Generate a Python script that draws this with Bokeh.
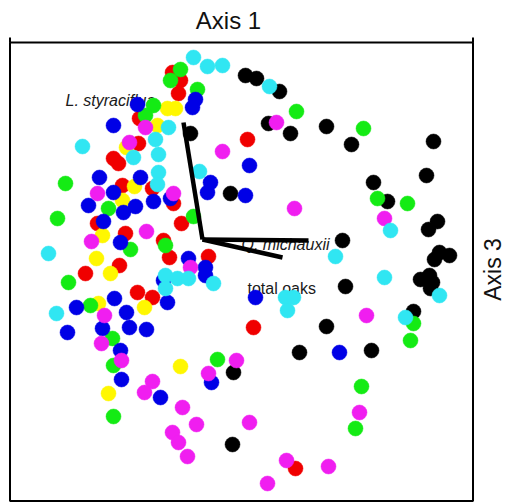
from math import pi
from bokeh.plotting import figure
from bokeh.models import BoxAnnotation
from bokeh.embed import file_html
from bokeh.resources import INLINE
from bokeh.core.properties import value

# Ordination scores (Axis 1 horizontal, Axis 3 vertical), grouped by plot colour
black_x = [0.04, 0.15, 0.38, -0.51, 0.27, 0.49, 0.85, 1.10, 1.92, 1.85, -0.11, 1.32, 1.46, 1.96, 1.87,
           1.01, 1.98, 2.08, 1.93, 1.88, 1.79, 1.91, 1.89, 1.04, 1.72, 0.85, 0.58, 1.30, -0.08, -0.09]
black_y = [1.92, 1.89, 1.76, 1.34, 1.44, 1.34, 1.41, 1.23, 1.26, 0.92, 0.74, 0.85, 0.66, 0.46, 0.38,
           0.27, 0.15, 0.12, 0.08, -0.08, -0.12, -0.15, -0.21, -0.19, -0.44, -0.59, -0.85, -0.83, -1.05, -1.77]

red_x = [-0.69, -0.61, -0.63, -1.02, -1.03, 0.06, -1.28, -1.23, -1.19, -0.89, -0.68, -1.44, -1.16, -0.60,
         -0.78, -1.22, -0.72, -0.33, -1.56, -1.04, -0.89, 0.12, 0.54]
red_y = [1.95, 1.87, 1.74, 1.49, 1.24, 1.28, 1.09, 1.04, 0.82, 0.79, 0.64, 0.44, 0.34, 0.44,
         0.27, 0.02, 0.10, 0.11, -0.06, -0.25, -0.30, -0.60, -2.01]

yellow_x = [-0.74, -0.66, -0.84, -1.15, -1.07, -1.19, -1.39, -1.45, -1.31, -1.43, -0.97, -0.61, -1.33]
yellow_y = [1.59, 1.59, 1.42, 1.20, 0.81, 0.67, 0.32, 0.09, -0.06, -0.36, -0.40, -0.99, -1.26]

green_x = [-0.61, -0.71, -0.44, -0.88, -0.96, 0.55, 1.22, -1.76, 1.36, 1.66, -1.33, -1.84, -0.48, -0.76,
           -1.11, -1.73, -1.51, 1.72, 1.69, -1.29, -1.28, -0.24, 1.20, -1.28, 1.14]
green_y = [1.98, 1.87, 1.78, 1.62, 1.52, 1.56, 1.39, 0.84, 0.69, 0.64, 0.59, 0.49, 0.51, 0.22,
           0.18, -0.15, -0.38, -0.56, -0.73, -0.71, -0.98, -0.92, -1.19, -1.49, -1.61]

blue_x = [-0.46, -0.49, -1.04, -1.28, 0.08, -1.42, -1.01, -1.28, -0.31, -0.34, 0.04, -0.88, -0.71, -1.53,
          -1.18, -1.06, -1.38, -1.21, -0.53, -0.36, -0.36, -0.78, 0.14, -0.74, -1.27, -1.65, -1.15, -1.74,
          -1.39, -1.12, -0.95, -1.21, -1.20, 0.98, -0.30, -0.81]
blue_y = [1.68, 1.60, 1.63, 1.42, 1.02, 0.90, 0.90, 0.75, 0.85, 0.75, 0.72, 0.66, 0.69, 0.62,
          0.55, 0.61, 0.46, 0.25, 0.09, 0.00, -0.08, -0.13, -0.30, -0.35, -0.31, -0.40, -0.45, -0.65,
          -0.61, -0.60, -0.62, -0.83, -1.12, -0.85, -1.15, -1.30]

magenta_x = [-0.96, 0.35, -1.12, -0.19, -1.44, -0.68, 0.53, 1.43, -0.95, -1.50, -0.51, -1.37, 1.25, -1.40,
             -1.20, -0.05, -0.33, -0.89, -0.97, -0.59, 1.18, 0.08, -0.45, -0.69, -0.63, -0.54, 0.45, 0.87, 0.26]
magenta_y = [1.40, 1.45, 1.25, 1.16, 0.74, 0.74, 0.59, 0.49, 0.36, 0.26, 0.00, -0.48, -0.48, -0.76,
             -0.93, -0.93, -1.06, -1.14, -1.25, -1.40, -1.45, -1.55, -1.57, -1.65, -1.75, -1.89, -1.93, -1.99, -2.16]

cyan_x = [-0.48, -0.34, -0.19, 0.28, -0.73, -0.86, -1.59, -1.08, -0.83, -0.42, -0.83, -0.84, 1.49, -1.93,
          0.94, -0.76, -0.64, -0.53, -0.28, 1.43, -0.76, 1.98, 0.44, 0.52, 0.46, -1.85, 1.64]
cyan_y = [2.10, 2.01, 2.02, 1.81, 1.40, 1.28, 1.21, 1.10, 1.13, 0.96, 0.95, 0.83, 0.37, 0.14,
          0.11, -0.08, -0.11, -0.11, -0.16, -0.10, -0.21, -0.28, -0.30, -0.30, -0.43, -0.46, -0.50]

# Biplot vectors (joint plot) and their labels
vector_names = ["L. styraciflua", "Q. michauxii", "total oaks"]
vector_origin = (-0.39, 0.28)
vector_x = [-0.58, 0.67, 0.41]
vector_y = [1.45, 0.27, 0.10]

axis_titles = ["Axis 1", "Axis 3"]

groups = [
    (black_x, black_y, "#000000"),
    (red_x, red_y, "#F00000"),
    (yellow_x, yellow_y, "#FFF700"),
    (green_x, green_y, "#14EB14"),
    (blue_x, blue_y, "#0000E6"),
    (magenta_x, magenta_y, "#F01EF0"),
    (cyan_x, cyan_y, "#30E6F2"),
]

FONT = value("Liberation Sans")

# Plot box limits (score units) and full canvas ranges
BOX_L, BOX_R, BOX_T, BOX_B = -2.315, 2.315, 2.25, -2.335
TOP_TICK = 2.30

p = figure(width=508, height=502, x_range=(-2.41, 2.67), y_range=(-2.35, 2.67),
           output_backend="svg", toolbar_location=None,
           x_axis_location=None, y_axis_location=None,
           min_border_left=0, min_border_right=0, min_border_top=0, min_border_bottom=0)
p.xgrid.visible = False
p.ygrid.visible = False
p.outline_line_color = None
p.background_fill_color = "white"
p.border_fill_color = "white"

# plot box
p.add_layout(BoxAnnotation(left=BOX_L, right=BOX_R, top=BOX_T, bottom=BOX_B,
                           fill_alpha=0, line_color="black", line_width=2, line_alpha=1))
# side lines poke slightly above the top line
for xx in (BOX_L, BOX_R):
    p.add_layout(BoxAnnotation(left=xx, right=xx, top=TOP_TICK, bottom=BOX_T,
                               fill_alpha=0, line_color="black", line_width=2, line_alpha=1))

# vector labels (under the points)
p.text(x=[-1.76], y=[1.67], text=[vector_names[0]], text_font=FONT, text_font_size="16px",
       text_font_style="italic", text_color="#1a1a1a", text_baseline="alphabetic", text_align="left")
p.text(x=[0.00], y=[0.23], text=[vector_names[1]], text_font=FONT, text_font_size="16px",
       text_font_style="italic", text_color="#1a1a1a", text_baseline="alphabetic", text_align="left")
p.text(x=[0.06], y=[-0.21], text=[vector_names[2]], text_font=FONT, text_font_size="16px",
       text_color="#1a1a1a", text_baseline="alphabetic", text_align="left")

for gx, gy, col in groups:
    p.scatter(gx, gy, size=15, fill_color=col, line_color=col, line_width=0.5)

p.segment(x0=[vector_origin[0]] * 3, y0=[vector_origin[1]] * 3, x1=vector_x, y1=vector_y,
          line_color="black", line_width=4.5)

# axis titles
p.text(x=[-0.13], y=[2.47], text=[axis_titles[0]], text_font=FONT, text_font_size="24px",
       text_align="center", text_baseline="alphabetic", text_color="#111111")
p.text(x=[2.51], y=[-0.02], text=[axis_titles[1]], angle=pi / 2, text_font=FONT, text_font_size="23px",
       text_align="center", text_baseline="middle", text_color="#111111")

open("out.html", "w").write(file_html(p, INLINE))
